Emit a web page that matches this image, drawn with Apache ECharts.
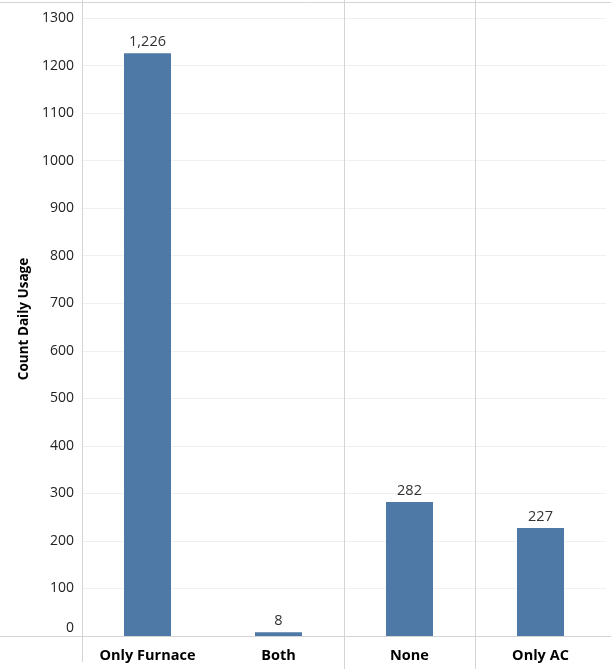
<!DOCTYPE html>
<html>
<head>
<meta charset="utf-8">
<script src="https://cdn.jsdelivr.net/npm/echarts@6/dist/echarts.min.js"></script>
<style>
  html, body { margin: 0; padding: 0; background: #fff; }
  #chart { width: 611px; height: 669px; }
</style>
</head>
<body>
<div id="chart"></div>
<script>
const categories = ['Only Furnace', 'Both', 'None', 'Only AC'];
const counts = [1226, 8, 282, 227];
const dividerAfter = [1, 2]; // boundary after these category indexes

const chart = echarts.init(document.getElementById('chart'));
const font = '"Open Sans", "Noto Sans", sans-serif';
const ruleColor = '#d4d4d4';

chart.setOption({
  animation: false,
  backgroundColor: '#fff',
  grid: { left: 82, right: 5, top: 18, bottom: 33 },
  xAxis: {
    type: 'category',
    data: categories,
    axisLine: { show: false },
    axisTick: { show: false },
    axisLabel: { color: '#000', fontFamily: font, fontSize: 14.5, fontWeight: 'bold', margin: 12 }
  },
  yAxis: {
    type: 'value',
    min: 0, max: 1300, interval: 100,
    name: 'Count Daily Usage',
    nameLocation: 'middle',
    nameGap: 51,
    nameTextStyle: { color: '#000', fontFamily: font, fontSize: 13.5, fontWeight: 'bold', padding: [0, 0, 0, 16] },
    axisLine: { show: false },
    axisTick: { show: false },
    axisLabel: {
      color: '#222', fontFamily: font, fontSize: 14, margin: 8,
      formatter: v => v === 0 ? '{z|0}' : String(v),
      rich: { z: { color: '#222', fontFamily: font, fontSize: 14, padding: [0, 0, 16, 0] } }
    },
    splitLine: { lineStyle: { color: '#f0f0f0', width: 1 } }
  },
  series: [{
    type: 'bar',
    data: counts,
    barWidth: 47,
    itemStyle: { color: '#4e79a7' },
    label: {
      show: true, position: 'top', distance: 4,
      color: '#333', fontFamily: font, fontSize: 14.5,
      formatter: p => p.value.toLocaleString('en-US')
    }
  }]
});

// frame rules: pane dividers, zero line, y axis rule, top rule
const W = chart.getWidth(), H = chart.getHeight();
const x0 = chart.convertToPixel({ xAxisIndex: 0 }, 0);
const x1 = chart.convertToPixel({ xAxisIndex: 0 }, 1);
const band = x1 - x0;
const yZero = chart.convertToPixel({ yAxisIndex: 0 }, 0);
const gridLeft = x0 - band / 2;
const lines = [];
const line = (a, b, c, d) => lines.push({
  type: 'line', silent: true,
  shape: { x1: a, y1: b, x2: c, y2: d },
  style: { stroke: ruleColor, lineWidth: 1 }
});
line(0, 2.5, W, 2.5);
line(0, Math.round(yZero) + 0.5, W, Math.round(yZero) + 0.5);
line(Math.round(gridLeft) + 0.5, 0, Math.round(gridLeft) + 0.5, H - 7);
dividerAfter.forEach(i => {
  const x = Math.round(chart.convertToPixel({ xAxisIndex: 0 }, i) + band / 2) + 0.5;
  line(x, 0, x, H);
});
chart.setOption({ graphic: lines });
</script>
</body>
</html>
